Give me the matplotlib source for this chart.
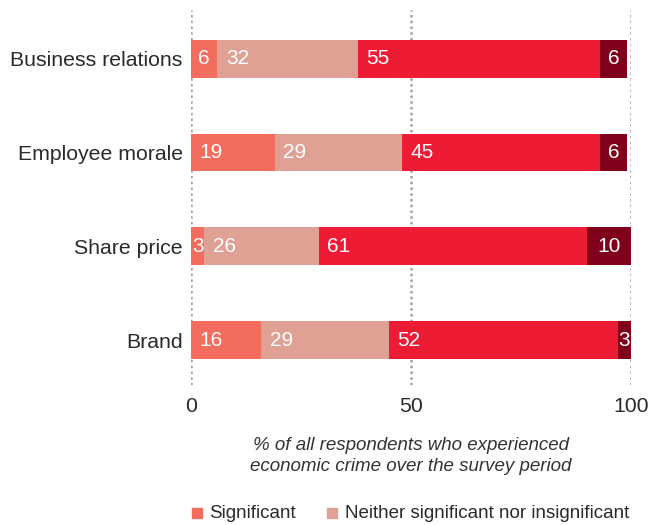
import matplotlib
matplotlib.use("Agg")
import matplotlib.pyplot as plt
from matplotlib.patches import Rectangle

plt.rcParams["font.family"] = ["Liberation Sans", "DejaVu Sans"]

categories = ["Business relations", "Employee morale", "Share price", "Brand"]
significant = [6, 19, 3, 16]
neither = [32, 29, 26, 29]
very_significant = [55, 45, 61, 52]
dont_know = [6, 6, 10, 3]
xticks = [0, 50, 100]

series = [significant, neither, very_significant, dont_know]
colors = ["#f26d5d", "#dfa194", "#ee1b35", "#80001b"]
legend_names = ["Significant", "Neither significant nor insignificant"]

W, H = 649, 525
fig = plt.figure(figsize=(W / 100, H / 100), dpi=100)
ax = fig.add_axes([191 / W, 1 - 385 / H, 440 / W, 375 / H])

ypos = list(range(len(categories)))
left = [0] * len(categories)
for k, (vals, col) in enumerate(zip(series, colors)):
    ax.barh(ypos, vals, left=left, height=0.404, color=col, zorder=3)
    for i, v in enumerate(vals):
        # narrow segments and the last one get a centred label
        if v <= 10 or k == len(series) - 1:
            ax.text(left[i] + v / 2, i, str(v), ha="center", va="center",
                    color="white", fontsize=15, zorder=4)
        else:
            ax.text(left[i] + 1.9, i, str(v), ha="left", va="center",
                    color="white", fontsize=15, zorder=4)
    left = [a + b for a, b in zip(left, vals)]

ax.set_xlim(0, 100)
ax.set_ylim(3.48, -0.52)
ax.set_yticks(ypos)
ax.set_yticklabels(categories, fontsize=15.3, color="#2a2a2a")
ax.set_xticks(xticks)
ax.set_xticklabels([str(t) for t in xticks], fontsize=15.3, color="#2a2a2a")
ax.tick_params(length=0, axis="x", pad=9)
ax.tick_params(length=0, axis="y", pad=6)
for s in ax.spines.values():
    s.set_visible(False)
ax.grid(axis="x", color="#aaa097", linestyle=(0, (1, 1.3)), lw=1.8, zorder=1)
ax.grid(axis="y", visible=False)

fig.text(411 / W, 1 - 456 / H,
         "% of all respondents who experienced\neconomic crime over the survey period",
         ha="center", va="center", fontsize=13.5, style="italic",
         color="#333333", linespacing=1.25)

# legend row along the bottom edge
for x0, tx, name, col in [(192, 209, legend_names[0], colors[0]),
                          (327, 345, legend_names[1], colors[1])]:
    fig.add_artist(Rectangle((x0 / W, 1 - 518 / H), 10 / W, 10 / H,
                             transform=fig.transFigure, color=col))
    fig.text(tx / W, 1 - 514 / H, name, ha="left", va="center",
             fontsize=13.5, color="#2a2a2a")

fig.savefig("out.png", dpi=100)
